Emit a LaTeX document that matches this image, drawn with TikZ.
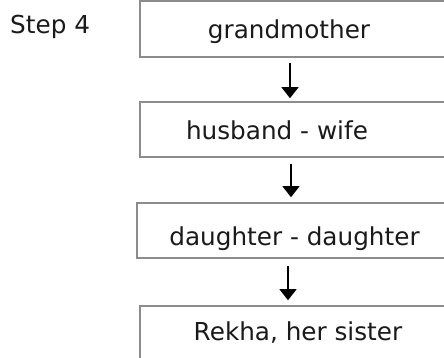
\documentclass[tikz,border=0pt]{standalone}
\usepackage{fontspec}
\setmainfont{DejaVu Sans}
\usetikzlibrary{arrows.meta}
\definecolor{boxgray}{HTML}{8C8C8C}
\definecolor{txt}{HTML}{1A1A1A}
\begin{document}
\begin{tikzpicture}[x=1pt,y=-1pt,
  boxstyle/.style={draw=boxgray, line width=1.6pt, inner sep=0pt},
  lbl/.style={font=\fontsize{24.7}{30}\selectfont, text=txt, inner sep=0pt, anchor=base},
  arr/.style={line width=1.3pt, -{Triangle[width=17pt,length=11pt]}}]
\useasboundingbox (0,0) rectangle (444,358);
\clip (0,0) rectangle (444,358);
\fill[white] (0,0) rectangle (444,358);
% boxes
\node[boxstyle, minimum width=306pt, minimum height=56pt] (b1) at (293,29) {};
\node[boxstyle, minimum width=306pt, minimum height=55pt] (b2) at (293,129.5) {};
\node[boxstyle, minimum width=309pt, minimum height=55pt] (b3) at (291.5,230.5) {};
\node[boxstyle, minimum width=306pt, minimum height=58pt] (b4) at (293,335) {};
% texts
\node[lbl, anchor=base west] (s4) at (10,34) {Step 4};
\node[lbl] (t1) at (289,39) {grandmother};
\node[lbl] (t2) at (277,140) {husband - wife};
\node[lbl] (t3) at (294.5,245) {daughter - daughter};
\node[lbl] (t4) at (298,340) {Rekha, her sister};
% arrows
\draw[arr] ([xshift=-3pt,yshift=-5pt]b1.south) -- ([xshift=-3pt,yshift=3pt]b2.north);
\draw[arr] ([xshift=-2pt,yshift=-6pt]b2.south) -- ([xshift=-0.5pt,yshift=5pt]b3.north);
\draw[arr] ([xshift=-3.5pt,yshift=-7pt]b3.south) -- ([xshift=-5pt,yshift=5pt]b4.north);
\end{tikzpicture}
\end{document}
